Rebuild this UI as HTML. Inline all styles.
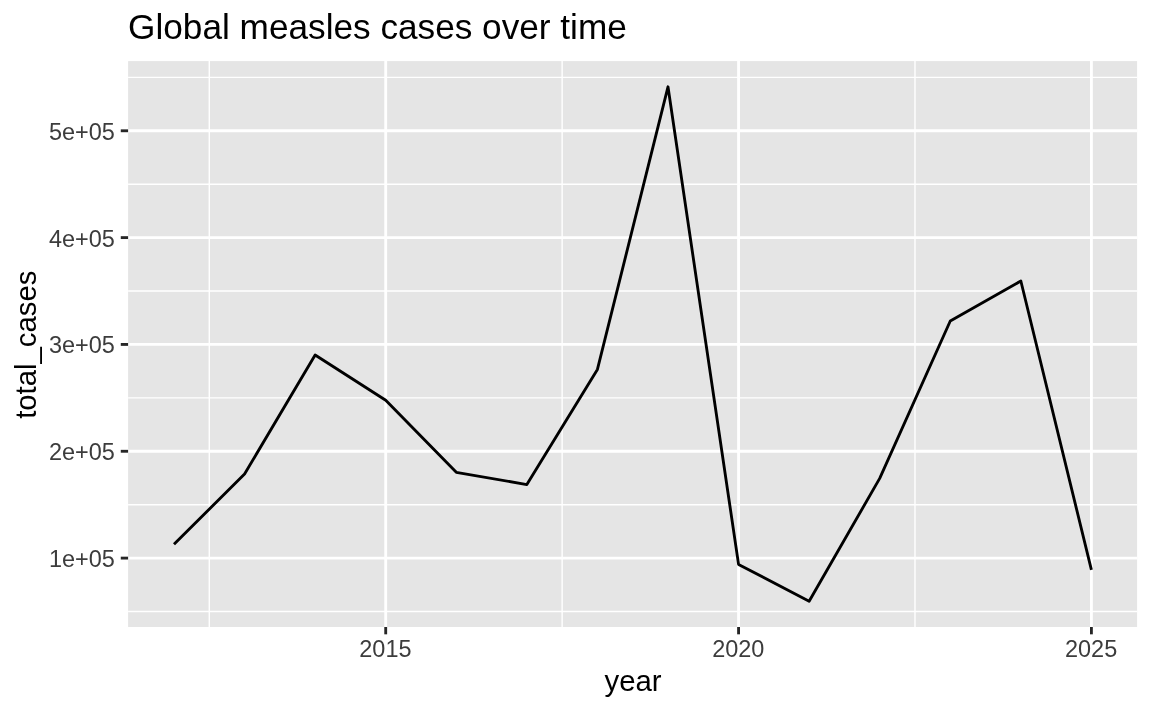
<!DOCTYPE html>
<html lang="en"><head><meta charset="utf-8"><title>Global measles cases over time</title>
<style>html,body{margin:0;padding:0;background:#fff;}body{width:1152px;height:711px;overflow:hidden;}svg{display:block;}text{font-family:"Liberation Sans",Arial,Helvetica,sans-serif;}</style></head><body>
<svg width="1152" height="711" viewBox="0 0 1152 711">
<rect x="0" y="0" width="1152" height="711" fill="#ffffff"/>
<rect x="128.1" y="61.1" width="1009.0" height="565.9" fill="#e5e5e5"/>
<g stroke="#ffffff" stroke-width="1.42" fill="none">
<line x1="128.1" x2="1137.1" y1="611.51" y2="611.51"/>
<line x1="128.1" x2="1137.1" y1="504.69" y2="504.69"/>
<line x1="128.1" x2="1137.1" y1="397.86" y2="397.86"/>
<line x1="128.1" x2="1137.1" y1="291.03" y2="291.03"/>
<line x1="128.1" x2="1137.1" y1="184.20" y2="184.20"/>
<line x1="128.1" x2="1137.1" y1="77.37" y2="77.37"/>
<line y1="61.1" y2="627.0" x1="209.28" x2="209.28"/>
<line y1="61.1" y2="627.0" x1="562.13" x2="562.13"/>
<line y1="61.1" y2="627.0" x1="914.98" x2="914.98"/>
</g>
<g stroke="#ffffff" stroke-width="2.85" fill="none">
<line x1="128.1" x2="1137.1" y1="558.10" y2="558.10"/>
<line x1="128.1" x2="1137.1" y1="451.27" y2="451.27"/>
<line x1="128.1" x2="1137.1" y1="344.44" y2="344.44"/>
<line x1="128.1" x2="1137.1" y1="237.61" y2="237.61"/>
<line x1="128.1" x2="1137.1" y1="130.78" y2="130.78"/>
<line y1="61.1" y2="627.0" x1="385.71" x2="385.71"/>
<line y1="61.1" y2="627.0" x1="738.56" x2="738.56"/>
<line y1="61.1" y2="627.0" x1="1091.41" x2="1091.41"/>
</g>
<polyline points="174.00,544.30 244.57,474.00 315.14,355.00 385.71,400.20 456.28,472.30 526.85,484.60 597.42,369.40 667.99,86.80 738.56,564.40 809.13,601.30 879.70,478.40 950.27,321.00 1020.84,281.00 1091.41,569.90" fill="none" stroke="#000000" stroke-width="2.85" stroke-linejoin="round" stroke-linecap="butt"/>
<g stroke="#262626" stroke-width="2.85" fill="none">
<line x1="120.77" x2="128.1" y1="558.10" y2="558.10"/>
<line x1="120.77" x2="128.1" y1="451.27" y2="451.27"/>
<line x1="120.77" x2="128.1" y1="344.44" y2="344.44"/>
<line x1="120.77" x2="128.1" y1="237.61" y2="237.61"/>
<line x1="120.77" x2="128.1" y1="130.78" y2="130.78"/>
<line y1="627.0" y2="634.33" x1="385.71" x2="385.71"/>
<line y1="627.0" y2="634.33" x1="738.56" x2="738.56"/>
<line y1="627.0" y2="634.33" x1="1091.41" x2="1091.41"/>
</g>
<g fill="#3c3c3c" font-size="23.47px">
<text x="114.9" y="567" text-anchor="end">1e+05</text>
<text x="114.9" y="460" text-anchor="end">2e+05</text>
<text x="114.9" y="353" text-anchor="end">3e+05</text>
<text x="114.9" y="247" text-anchor="end">4e+05</text>
<text x="114.9" y="140" text-anchor="end">5e+05</text>
<text x="385.41" y="656.9" text-anchor="middle">2015</text>
<text x="738.26" y="656.9" text-anchor="middle">2020</text>
<text x="1091.11" y="656.9" text-anchor="middle">2025</text>
</g>
<text x="633.0" y="690.7" text-anchor="middle" font-size="29.33px" fill="#000000">year</text>
<text transform="translate(36.2,344.7) rotate(-90)" text-anchor="middle" font-size="29.33px" fill="#000000">total_cases</text>
<text x="128.1" y="38.8" font-size="35.2px" fill="#000000">Global measles cases over time</text>
</svg></body></html>
